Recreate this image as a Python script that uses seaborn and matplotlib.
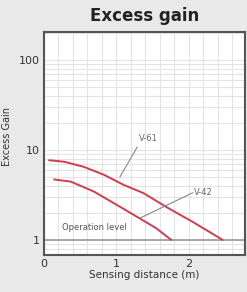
import numpy as np
import pandas as pd
import matplotlib.pyplot as plt
import seaborn as sns
from matplotlib.ticker import MultipleLocator, LogLocator, NullFormatter

# data
v61_dist = [0.07, 0.28, 0.55, 0.83, 1.10, 1.38, 1.70, 2.06, 2.47]
v61_gain = [7.7, 7.4, 6.5, 5.3, 4.1, 3.3, 2.3, 1.58, 1.0]
v42_dist = [0.14, 0.37, 0.69, 0.97, 1.24, 1.55, 1.76]
v42_gain = [4.7, 4.45, 3.45, 2.55, 1.9, 1.35, 1.0]

df = pd.concat([
    pd.DataFrame({'dist': v61_dist, 'gain': v61_gain, 'model': 'V-61'}),
    pd.DataFrame({'dist': v42_dist, 'gain': v42_gain, 'model': 'V-42'}),
])

sns.set_style('white')
bg = '#e9e9e9'
fig = plt.figure(figsize=(2.47, 2.92), dpi=100, facecolor=bg)
ax = fig.add_axes([0.178, 0.127, 0.814, 0.763])

ax.set_yscale('log')
ax.set_xlim(0, 2.78)
ax.set_ylim(0.68, 205)

# grid
ax.xaxis.set_minor_locator(MultipleLocator(0.2))
ax.yaxis.set_minor_locator(LogLocator(base=10, subs=np.arange(2, 10)))
ax.yaxis.set_minor_formatter(NullFormatter())
ax.grid(True, which='both', color='#e4e4e4', lw=0.8)
ax.set_axisbelow(True)

# operation level
ax.axhline(1, color='#999999', lw=1.2)
ax.text(0.25, 1.3, 'Operation level', fontsize=6, color='#555555')

sns.lineplot(data=df, x='dist', y='gain', hue='model', palette=['#cc3f50', '#cc3f50'],
             legend=False, ax=ax, lw=1.4, sort=False)

# labels with leaders
ax.plot([1.29, 1.05], [10.8, 5.0], color='#888888', lw=0.8)
ax.text(1.32, 12.5, 'V-61', fontsize=6, color='#666666')
ax.plot([2.06, 1.33], [3.35, 1.75], color='#888888', lw=0.8)
ax.text(2.08, 3.4, 'V-42', fontsize=6, color='#666666', va='center')

ax.set_xticks([0, 1, 2])
ax.set_xticklabels(['0', '1', '2'])
ax.set_yticks([1, 10, 100])
ax.set_yticklabels(['1', '10', '100'])
ax.tick_params(which='both', length=0, labelsize=8, colors='#333333', pad=3)
ax.set_xlabel('Sensing distance (m)', fontsize=7.5, color='#333333', labelpad=1)
ax.set_ylabel('Excess Gain', fontsize=7, color='#333333')
ax.yaxis.set_label_coords(-0.16, 0.53)
for s in ax.spines.values():
    s.set_color('#555555')
    s.set_linewidth(1.5)

fig.text(0.585, 0.945, 'Excess gain', ha='center', va='center', fontsize=12, fontweight='bold', color='#222222')

fig.savefig('out.png', dpi=100, facecolor=bg)
